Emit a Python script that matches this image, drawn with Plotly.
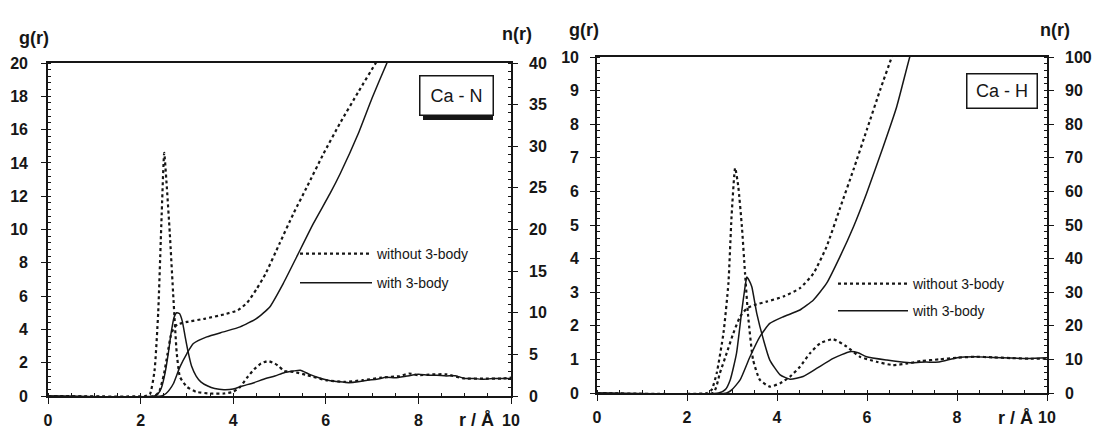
import plotly.graph_objects as go

# ---------------- Ca - N panel ----------------
caN_r_g_without = [0, 2.1, 2.2, 2.3, 2.38, 2.45, 2.51, 2.56, 2.63, 2.71, 2.78, 2.85, 3.0, 3.2, 3.5, 3.8,
                   4.0, 4.15, 4.3, 4.45, 4.6, 4.75, 4.9, 5.0, 5.1, 5.3, 5.6, 6.0, 6.4, 6.8, 7.2, 7.6,
                   7.8, 8.0, 8.3, 8.6, 9.0, 9.4, 9.8, 10]
caN_g_without = [0, 0, 0.1, 1.5, 5.0, 10.5, 14.6, 12.8, 9.8, 5.8, 2.6, 1.15, 0.55, 0.25, 0.15, 0.15,
                 0.25, 0.55, 1.1, 1.6, 1.95, 2.1, 1.95, 1.75, 1.5, 1.45, 1.25, 0.95, 0.85, 0.95, 1.1, 1.2,
                 1.35, 1.25, 1.3, 1.3, 1.05, 1.05, 1.05, 1.1]

caN_r_g_with = [0, 2.3, 2.38, 2.45, 2.53, 2.6, 2.66, 2.72, 2.78, 2.84, 2.9, 2.96, 3.03, 3.1, 3.2, 3.3,
                3.45, 3.6, 3.8, 4.0, 4.2, 4.45, 4.7, 4.9, 5.1, 5.3, 5.45, 5.65, 5.85, 6.05, 6.3, 6.5,
                6.7, 6.9, 7.1, 7.3, 7.5, 7.75, 8.0, 8.2, 8.4, 8.6, 8.8, 9.0, 9.2, 9.4, 9.6, 9.8, 10]
caN_g_with = [0, 0, 0.15, 0.5, 1.4, 2.6, 3.8, 4.7, 5.0, 4.95, 4.5, 3.6, 2.6, 1.8, 1.2, 0.85,
              0.6, 0.45, 0.38, 0.42, 0.6, 0.8, 1.05, 1.2, 1.4, 1.5, 1.55, 1.3, 1.1, 0.95, 0.85, 0.8,
              0.85, 0.95, 1.0, 1.12, 1.1, 1.2, 1.3, 1.25, 1.25, 1.2, 1.22, 1.05, 1.05, 1.0, 1.05, 1.05, 1.05]

caN_r_n_without = [0, 2.3, 2.4, 2.5, 2.58, 2.65, 2.72, 2.8, 3.0, 3.4, 3.8, 4.1, 4.3, 4.5, 4.7, 5.0,
                   5.3, 5.6, 5.95, 6.3, 6.7, 7.08, 7.2]
caN_n_without = [0, 0, 0.5, 2.5, 5.0, 7.2, 8.2, 8.6, 8.9, 9.3, 9.8, 10.3, 11.2, 12.8, 14.7, 18.3,
                 21.9, 25.2, 29.1, 32.7, 36.5, 40.0, 41.0]

caN_r_n_with = [0, 2.45, 2.55, 2.63, 2.71, 2.85, 3.0, 3.14, 3.43, 3.79, 4.15, 4.5, 4.79, 5.08, 5.37,
                5.73, 6.09, 6.31, 6.7, 7.0, 7.32, 7.4]
caN_n_with = [0, 0, 0.3, 0.8, 1.5, 3.5, 5.1, 6.3, 7.1, 7.7, 8.3, 9.3, 10.7, 13.5, 16.7,
              20.7, 24.3, 26.7, 31.5, 35.8, 40.0, 41.0]

# ---------------- Ca - H panel ----------------
caH_r_g_without = [0, 2.45, 2.55, 2.66, 2.81, 2.92, 2.99, 3.07, 3.14, 3.22, 3.29, 3.36, 3.47, 3.62,
                   3.84, 4.07, 4.29, 4.51, 4.73, 4.96, 5.25, 5.55, 5.84, 6.21, 6.58, 6.9, 7.2, 7.6,
                   8.0, 8.4, 8.8, 9.2, 9.6, 10]
caH_g_without = [0, 0, 0.1, 0.59, 1.78, 3.26, 5.25, 6.7, 6.14, 4.95, 3.56, 2.27, 0.98, 0.39,
                 0.19, 0.29, 0.49, 0.78, 1.18, 1.48, 1.6, 1.38, 1.08, 0.93, 0.83, 0.88, 0.95, 1.0,
                 1.05, 1.08, 1.06, 1.04, 1.02, 1.02]

caH_r_g_with = [0, 2.7, 2.85, 2.96, 3.1, 3.21, 3.29, 3.33, 3.38, 3.44, 3.55, 3.7, 3.84, 4.07, 4.29,
                4.58, 4.88, 5.25, 5.62, 5.8, 5.99, 6.44, 6.73, 7.0, 7.3, 7.6, 8.0, 8.4, 8.8, 9.2, 9.6, 10]
caH_g_with = [0, 0, 0.1, 0.39, 1.18, 2.37, 3.16, 3.45, 3.35, 3.16, 2.37, 1.58, 0.98, 0.54, 0.41,
              0.49, 0.73, 1.03, 1.23, 1.2, 1.08, 0.98, 0.93, 0.9, 0.92, 0.92, 1.05, 1.08, 1.06, 1.04, 1.03, 1.05]

caH_r_n_without = [0, 2.58, 2.73, 2.88, 3.03, 3.18, 3.33, 3.5, 3.77, 4.14, 4.51, 4.81, 5.1, 5.4,
                   5.7, 6.0, 6.3, 6.55, 6.65]
caH_n_without = [0, 0, 5.9, 11.8, 17.8, 22.7, 25.2, 26.2, 27.2, 28.7, 31.2, 35.6, 43.5, 55.0,
                 66.5, 78.5, 90.5, 100.0, 104.0]

caH_r_n_with = [0, 2.88, 3.0, 3.18, 3.4, 3.62, 3.84, 4.14, 4.51, 4.81, 5.1, 5.4, 5.7, 5.99, 6.36,
                6.66, 6.95, 7.05]
caH_n_with = [0, 0, 1.0, 3.9, 10.8, 16.8, 20.7, 22.7, 24.7, 27.7, 32.6, 40.6, 49.5, 59.4, 73.3,
              85.2, 100.0, 104.0]

x_ticks = [0, 2, 4, 6, 8, 10]
legend_names = ["without 3-body", "with 3-body"]
panel_labels = ["Ca - N", "Ca - H"]

INK = "#161616"
FONT = "Liberation Sans, Arial, sans-serif"
W, H = 1094, 432


def px(x):
    return x / W


def py(y):
    return 1 - y / H


fig = go.Figure()

dot_line = dict(color=INK, width=2.2, dash="dot")
solid_line = dict(color=INK, width=1.5)


def add(r, v, xa, ya, line, name=None, legend="legend", group=None):
    fig.add_trace(go.Scatter(
        x=r, y=v, xaxis=xa, yaxis=ya, mode="lines", line=line,
        line_shape="spline", line_smoothing=0.5,
        name=name if name else "", showlegend=name is not None,
        legend=legend, legendgroup=group, hoverinfo="skip"))


# Panel 1
add(caN_r_g_without, caN_g_without, "x", "y", dot_line, legend_names[0], "legend", "a1")
add(caN_r_g_with, caN_g_with, "x", "y", solid_line, legend_names[1], "legend", "b1")
add(caN_r_n_without, caN_n_without, "x", "y2", dot_line)
add(caN_r_n_with, caN_n_with, "x", "y2", solid_line)
# Panel 2
add(caH_r_g_without, caH_g_without, "x2", "y3", dot_line, legend_names[0], "legend2", "a2")
add(caH_r_g_with, caH_g_with, "x2", "y3", solid_line, legend_names[1], "legend2", "b2")
add(caH_r_n_without, caH_n_without, "x2", "y4", dot_line)
add(caH_r_n_with, caH_n_with, "x2", "y4", solid_line)

tickfont = dict(family=FONT, size=16, color=INK, weight="bold")


def xaxis(domain, anchor):
    return dict(domain=domain, anchor=anchor, range=[0, 10], tickvals=x_ticks,
                showline=True, linecolor=INK, linewidth=1.6, mirror=True,
                ticks="outside", ticklen=6, tickwidth=1.3, tickcolor=INK,
                minor=dict(dtick=0.5, ticks="inside", ticklen=3, tickcolor=INK, tickwidth=1),
                showgrid=False, zeroline=False, tickfont=tickfont, automargin=False,
                ticklabelstandoff=3, fixedrange=True)


def yaxis(domain, anchor, rng, dtick, side="left", overlay=None, standoff=9):
    d = dict(domain=domain, anchor=anchor, range=rng, dtick=dtick, side=side,
             showline=True, linecolor=INK, linewidth=1.6,
             ticks="outside", ticklen=5, tickwidth=1.3, tickcolor=INK,
             minor=dict(dtick=dtick / 5, ticks="inside", ticklen=3, tickcolor=INK, tickwidth=1),
             showgrid=False, zeroline=False, tickfont=tickfont, ticklabelstandoff=standoff,
             automargin=False, fixedrange=True)
    if overlay:
        d["overlaying"] = overlay
    return d


p1x = [px(48), px(511)]
p1y = [1 - 396 / H, 1 - 63 / H]
p2x = [px(597), px(1047)]
p2y = [1 - 393 / H, 1 - 57 / H]

legend_style = dict(font=dict(family=FONT, size=14, color=INK), bgcolor="rgba(0,0,0,0)",
                    borderwidth=0, traceorder="grouped",
                    xanchor="left", yanchor="top")

fig.update_layout(
    width=W, height=H, autosize=False,
    margin=dict(l=0, r=0, t=0, b=0),
    paper_bgcolor="white", plot_bgcolor="white",
    font=dict(family=FONT, color=INK),
    xaxis=xaxis(p1x, "y"),
    yaxis=yaxis(p1y, "x", [0, 20], 2, standoff=10),
    yaxis2=yaxis(p1y, "x", [0, 40], 5, side="right", overlay="y", standoff=8),
    xaxis2=xaxis(p2x, "y3"),
    yaxis3=yaxis(p2y, "x2", [0, 10], 1, standoff=8),
    yaxis4=yaxis(p2y, "x2", [0, 100], 10, side="right", overlay="y3", standoff=8),
    legend=dict(x=px(295), y=py(238), itemwidth=72, tracegroupgap=8, **legend_style),
    legend2=dict(x=px(833), y=py(268), itemwidth=70, tracegroupgap=6, **legend_style),
    showlegend=True,
)

ann_font = dict(family=FONT, size=18, color=INK, weight="bold")
annotations = [
    dict(text="g(r)", x=px(34), y=py(38)),
    dict(text="n(r)", x=px(517), y=py(34)),
    dict(text="g(r)", x=px(584), y=py(30)),
    dict(text="n(r)", x=px(1055), y=py(30)),
]
for a in annotations:
    a.update(xref="paper", yref="paper", showarrow=False, font=ann_font,
             xanchor="center", yanchor="middle")
# axis titles r / Å next to the last tick label
annotations += [
    dict(text="r / Å", x=px(496), y=py(420), xref="paper", yref="paper", showarrow=False,
         font=ann_font, xanchor="right", yanchor="middle"),
    dict(text="r / Å", x=px(1035), y=py(418), xref="paper", yref="paper", showarrow=False,
         font=ann_font, xanchor="right", yanchor="middle"),
]
# panel labels
box_font = dict(family=FONT, size=18, color=INK)
annotations += [
    dict(text=panel_labels[0], x=px(456), y=py(95), xref="paper", yref="paper", showarrow=False,
         font=box_font, xanchor="center", yanchor="middle", width=66, height=32,
         bordercolor=INK, borderwidth=1.5, borderpad=3, bgcolor="white"),
    dict(text=panel_labels[1], x=px(1002), y=py(91), xref="paper", yref="paper", showarrow=False,
         font=box_font, xanchor="center", yanchor="middle", width=63, height=27,
         bordercolor=INK, borderwidth=1.5, borderpad=3, bgcolor="white"),
]
fig.update_layout(annotations=annotations)

# drop shadow under the Ca - N label box
fig.add_shape(type="rect", xref="paper", yref="paper",
              x0=px(423), x1=px(493), y0=py(120), y1=py(114),
              fillcolor=INK, line=dict(width=0), layer="above")

fig.write_html("out.html")
